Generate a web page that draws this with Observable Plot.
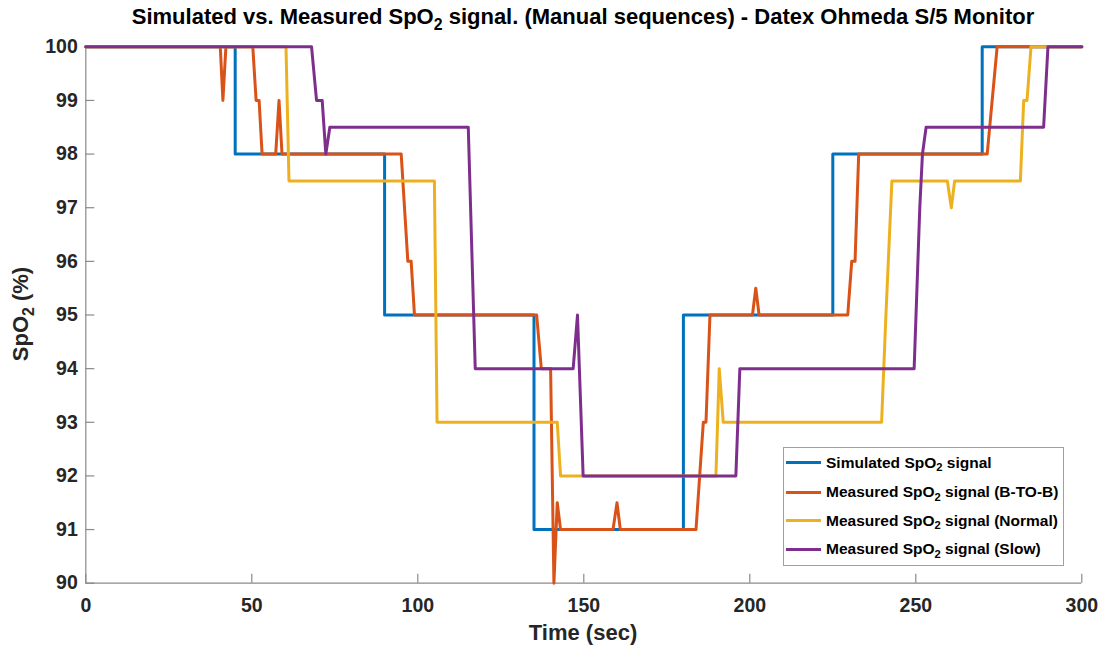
<!DOCTYPE html>
<html><head><meta charset="utf-8">
<script src="https://cdn.jsdelivr.net/npm/d3@7"></script>
<script src="https://cdn.jsdelivr.net/npm/@observablehq/plot@0.6"></script>
<style>
body{margin:0;background:#fff;font-family:"Liberation Sans",Arial,sans-serif;}
#wrap{position:relative;width:1107px;height:650px;overflow:hidden;}
#wrap svg{position:absolute;left:0;top:0;}
.ov{position:absolute;font-weight:bold;color:#000;white-space:nowrap;}
.sub{font-size:0.72em;position:relative;top:0.35em;}
#title{left:85px;width:996px;top:4px;text-align:center;font-size:22px;}
#xlab{left:85px;width:996px;top:620px;text-align:center;font-size:22px;color:#262626;}
#ylab{left:21px;top:314px;font-size:22px;color:#262626;transform:translate(-50%,-50%) rotate(-90deg);transform-origin:center;}
#legend{left:783px;top:447px;width:279px;height:117px;border:1px solid #a0a0a0;background:#fff;}
.lrow{position:absolute;left:0;height:20px;display:flex;align-items:center;font-size:15.5px;color:#000;}
.sw{width:35px;height:3px;margin-left:2px;margin-right:5px;}
</style></head><body>
<div id="wrap"></div>
<script>
// ---- data ----
const xDomain = [0, 300];
const yDomain = [90, 100];
const xTicks = [0, 50, 100, 150, 200, 250, 300];
const yTicks = [90, 91, 92, 93, 94, 95, 96, 97, 98, 99, 100];

const seriesNames = [
  "Simulated SpO2 signal",
  "Measured SpO2 signal (B-TO-B)",
  "Measured SpO2 signal (Normal)",
  "Measured SpO2 signal (Slow)"
];
const seriesColors = ["#0072BD", "#D95319", "#EDB120", "#7E2F8E"];

// Simulated
const simT = [0, 45, 45, 90, 90, 135, 135, 180, 180, 225, 225, 270, 270, 300];
const simV = [100, 100, 98, 98, 95, 95, 91, 91, 95, 95, 98, 98, 100, 100];

// Measured B-TO-B
const bbT = [0, 40.5, 41.3, 42.2, 50.3, 51.3, 52.2, 53.1, 57.2, 58.2, 59.1, 95, 97, 98, 99, 135.8, 137.2, 140, 141, 142, 143, 158.8, 160, 161, 183.8, 186, 186.8, 188, 200.8, 201.8, 202.8, 229.5, 230.7, 231.7, 232.8, 271.5, 274.5, 300];
const bbV = [100, 100, 99, 100, 100, 99, 99, 98, 98, 99, 98, 98, 96, 96, 95, 95, 94, 94, 90, 91.5, 91, 91, 91.5, 91, 91, 93, 93, 95, 95, 95.5, 95, 95, 96, 96, 98, 98, 100, 100];

// Measured Normal
const normT = [0, 60.3, 61.2, 105, 105.8, 142, 143, 189.8, 190.8, 192, 239.7, 241, 242.8, 259.5, 260.7, 261.7, 281.5, 282.5, 283.5, 284.7, 300];
const normV = [100, 100, 97.5, 97.5, 93, 93, 92, 92, 94, 93, 93, 95, 97.5, 97.5, 97, 97.5, 97.5, 99, 99, 100, 100];

// Measured Slow
const slowT = [0, 68, 69.5, 71.2, 72.3, 73.5, 115.2, 117.3, 146.8, 148.1, 149.8, 195.8, 197, 249.5, 251.2, 252, 253.1, 288.5, 289.8, 300];
const slowV = [100, 100, 99, 99, 98, 98.5, 98.5, 94, 94, 95, 92, 92, 94, 94, 97, 98, 98.5, 98.5, 100, 100];

// ---- build ----
const seriesT = [simT, bbT, normT, slowT];
const seriesV = [simV, bbV, normV, slowV];
const rows = seriesT.map((T, i) => T.map((t, j) => ({t, v: seriesV[i][j], s: seriesNames[i]})));

const W = 1107, H = 650;
const mL = 85.3, mR = 25.7, mT = 46.3, mB = 67.3;
const innerW = W - mL - mR, innerH = H - mT - mB;
const tickLen = 9;
const axisGray = "#8a8a8a";

const chart = Plot.plot({
  width: W, height: H,
  marginLeft: mL, marginRight: mR, marginTop: mT, marginBottom: mB,
  style: {fontFamily: '"Liberation Sans", Arial, sans-serif', fontSize: "19.5px", fontWeight: "bold", color: "#262626", background: "white", overflow: "visible"},
  x: {domain: xDomain},
  y: {domain: yDomain},
  color: {domain: seriesNames, range: seriesColors},
  marks: [
    Plot.ruleY([yDomain[0]], {stroke: axisGray, strokeWidth: 1.2}),
    Plot.ruleX([xDomain[0]], {stroke: axisGray, strokeWidth: 1.2}),
    Plot.tickX(xTicks, {x: d => d, stroke: axisGray, strokeWidth: 1.2, insetTop: innerH - tickLen}),
    Plot.tickY(yTicks, {y: d => d, stroke: axisGray, strokeWidth: 1.2, insetRight: innerW - tickLen}),
    Plot.axisX({ticks: xTicks, tickSize: 0, tickPadding: 15, label: null, fill: "#262626"}),
    Plot.axisY({ticks: yTicks, tickSize: 0, tickPadding: 8, label: null, fill: "#262626"}),
    ...rows.map((r, i) => Plot.line(r, {x: "t", y: "v", stroke: "s", strokeWidth: 3, strokeLinejoin: "round", curve: "linear"}))
  ]
});
const wrap = document.getElementById("wrap");
wrap.appendChild(chart);

function html(s){ return s.replace("SpO2", 'SpO<span class="sub">2</span>'); }
function ov(id, content){ const d = document.createElement("div"); d.className = "ov"; d.id = id; d.innerHTML = content; wrap.appendChild(d); return d; }
ov("title", html("Simulated vs. Measured SpO2 signal. (Manual sequences) - Datex Ohmeda S/5 Monitor"));
ov("xlab", "Time (sec)");
ov("ylab", html("SpO2 (%)"));
const lg = ov("legend", "");
const rowCenters = [14.5, 44, 72.5, 101];
seriesNames.forEach((n, i) => {
  const r = document.createElement("div");
  r.className = "lrow";
  r.style.top = (rowCenters[i] - 10) + "px";
  r.innerHTML = `<div class="sw" style="background:${seriesColors[i]}"></div><span>${html(n)}</span>`;
  lg.appendChild(r);
});
</script>
</body></html>
